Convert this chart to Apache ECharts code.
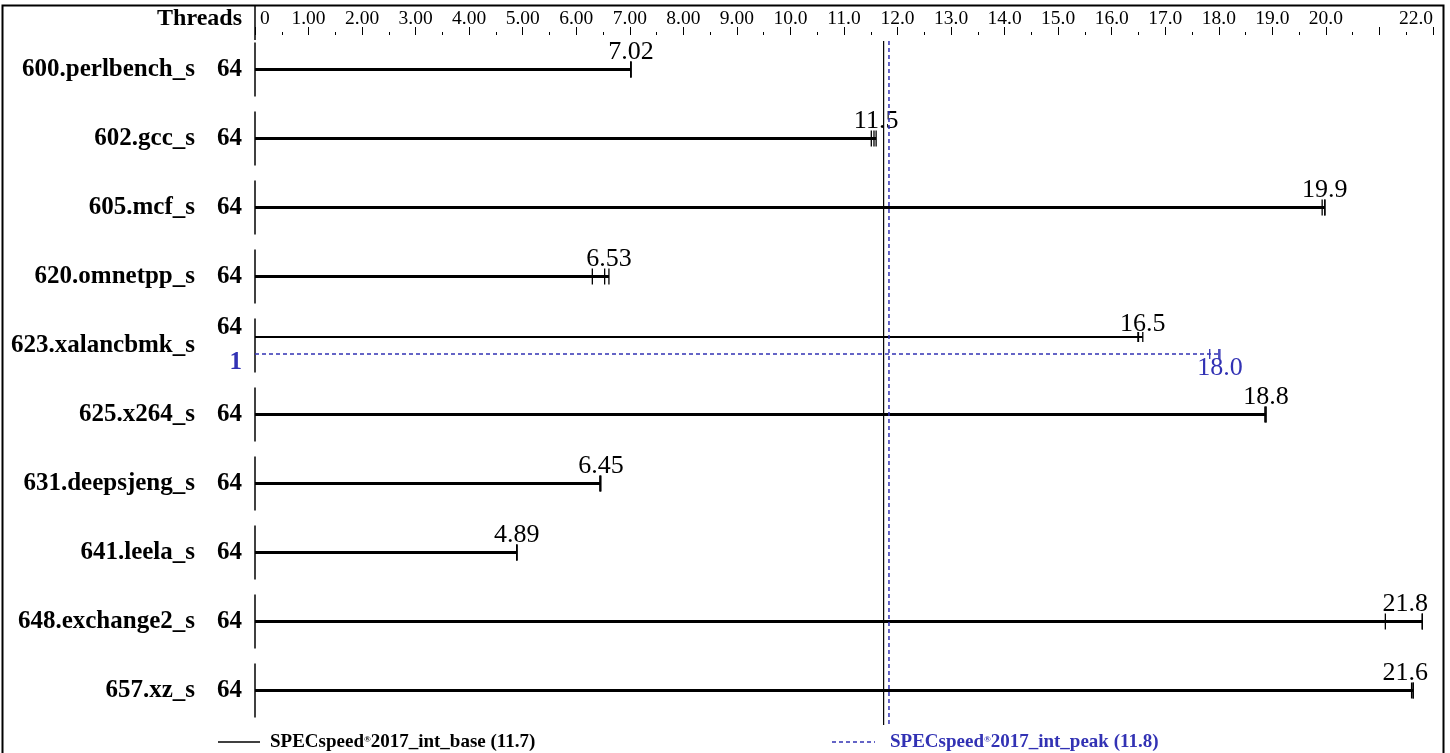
<!DOCTYPE html>
<html>
<head>
<meta charset="utf-8">
<script src="https://cdn.jsdelivr.net/npm/echarts@6/dist/echarts.min.js"></script>
<style>
html,body{margin:0;padding:0;background:#fff;}
#chart{width:1450px;height:753px;}
</style>
</head>
<body>
<div id="chart"></div>
<script>
// ---------- data ----------
const benchmarks = ['600.perlbench_s','602.gcc_s','605.mcf_s','620.omnetpp_s','623.xalancbmk_s','625.x264_s','631.deepsjeng_s','641.leela_s','648.exchange2_s','657.xz_s'];
const baseThreads = [64,64,64,64,64,64,64,64,64,64];
const baseScores = [7.02, 11.5, 19.9, 6.53, 16.5, 18.8, 6.45, 4.89, 21.8, 21.6];
const baseRuns = [
  [7.02, 7.02, 7.02],
  [11.51, 11.56, 11.60],
  [19.93, 19.98, 19.98],
  [6.30, 6.53, 6.61],
  [16.49, 16.50, 16.58],
  [18.86, 18.88, 18.88],
  [6.44, 6.45, 6.46],
  [4.89, 4.89, 4.89],
  [21.11, 21.80, 21.80],
  [21.60, 21.63, 21.63]
];
const peakBenchmarks = ['623.xalancbmk_s'];
const peakThreads = [1];
const peakScores = [18.0];
const peakRuns = [[17.83, 18.00, 18.02]];
const baseMean = 11.74;
const peakMean = 11.84;
const tickLabels = ['0','1.00','2.00','3.00','4.00','5.00','6.00','7.00','8.00','9.00','10.0','11.0','12.0','13.0','14.0','15.0','16.0','17.0','18.0','19.0','20.0','','22.0'];

// ---------- styling ----------
const SERIF = 'Liberation Serif';
const BLUE = '#3232b4';
const NAME_SIZE = 25;
const VALUE_SIZE = 26;

const chart = echarts.init(document.getElementById('chart'));

function hasPeak(i){ return peakBenchmarks.indexOf(benchmarks[i]) >= 0; }

function barRender(runsArr, scoresArr, isPeak){
  return function(params, api){
    const idx = params.dataIndex;
    const cat = api.value(1);
    const cs = params.coordSys;
    const center = api.coord([0, cat]);
    let y = center[1];
    const split = isPeak || hasPeak(cat);
    if (split) y += isPeak ? 8.5 : -8.5;
    const runs = runsArr[idx];
    const endVal = Math.max.apply(null, runs);
    const x0 = center[0];
    const x1 = api.coord([endVal, cat])[0];
    const color = isPeak ? BLUE : '#000';
    const children = [];
    children.push({
      type: 'line',
      shape: {x1: x0, y1: y, x2: x1, y2: y},
      style: {stroke: color, lineWidth: isPeak ? 1.5 : (split ? 2 : 3), lineDash: isPeak ? [4,3] : null}
    });
    const th = split ? 5 : 8;
    runs.forEach(function(r){
      const rx = api.coord([r, cat])[0];
      children.push({
        type: 'line',
        shape: {x1: rx, y1: y - th, x2: rx, y2: y + th},
        style: {stroke: color, lineWidth: 1.3}
      });
    });
    const limit = cs.x + cs.width - 5;
    let align = 'center', tx = x1;
    if (x1 + 23 > limit) { align = 'right'; tx = limit; }
    const ty = isPeak ? y + 14 : (split ? y - 13 : y - 17);
    children.push({
      type: 'text',
      style: {
        x: tx, y: ty, text: String(scoresArr[idx].toFixed(scoresArr[idx] < 10 ? 2 : 1)),
        align: align, verticalAlign: 'middle',
        fontFamily: SERIF, fontSize: VALUE_SIZE, fill: color
      }
    });
    return {type: 'group', children: children};
  };
}

function labelRender(params, api){
  const cat = api.value(1);
  const cs = params.coordSys;
  const p = api.coord([0, cat]);
  const x = cs.x, y = p[1];
  const children = [];
  children.push({
    type: 'line', shape: {x1: x, y1: y - 27, x2: x, y2: y + 27},
    style: {stroke: '#000', lineWidth: 1.5}
  });
  children.push({
    type: 'text',
    style: {x: x - 60, y: y, text: benchmarks[cat], align: 'right', verticalAlign: 'middle',
      fontFamily: SERIF, fontSize: NAME_SIZE, fontWeight: 'bold', fill: '#000'}
  });
  if (hasPeak(cat)) {
    const pi = peakBenchmarks.indexOf(benchmarks[cat]);
    children.push({
      type: 'text',
      style: {x: x - 13, y: y - 18, text: String(baseThreads[cat]), align: 'right', verticalAlign: 'middle',
        fontFamily: SERIF, fontSize: NAME_SIZE, fontWeight: 'bold', fill: '#000'}
    });
    children.push({
      type: 'text',
      style: {x: x - 13, y: y + 17, text: String(peakThreads[pi]), align: 'right', verticalAlign: 'middle',
        fontFamily: SERIF, fontSize: NAME_SIZE, fontWeight: 'bold', fill: BLUE}
    });
  } else {
    children.push({
      type: 'text',
      style: {x: x - 13, y: y, text: String(baseThreads[cat]), align: 'right', verticalAlign: 'middle',
        fontFamily: SERIF, fontSize: NAME_SIZE, fontWeight: 'bold', fill: '#000'}
    });
  }
  if (cat === 0) {
    children.push({
      type: 'line', shape: {x1: x, y1: 5, x2: x, y2: cs.y + 5},
      style: {stroke: '#000', lineWidth: 1.5}
    });
    children.push({
      type: 'text',
      style: {x: x - 13, y: 19, text: 'Threads', align: 'right', verticalAlign: 'middle',
        fontFamily: SERIF, fontSize: 24, fontWeight: 'bold', fill: '#000'}
    });
  }
  return {type: 'group', children: children};
}

function meanRender(color, dashed){
  return function(params, api){
    const cs = params.coordSys;
    const x = api.coord([api.value(0), 0])[0];
    return {
      type: 'line',
      shape: {x1: x, y1: cs.y + 6, x2: x, y2: cs.y + cs.height},
      style: {stroke: color, lineWidth: dashed ? 1.5 : 1.2, lineDash: dashed ? [4,3] : null}
    };
  };
}

const peakIdx = peakBenchmarks.map(function(b){ return benchmarks.indexOf(b); });

const option = {
  animation: false,
  backgroundColor: '#fff',
  grid: {left: 255, right: 17, top: 35, bottom: 28, containLabel: false},
  xAxis: {
    type: 'value', position: 'top', min: 0, max: 22, interval: 1,
    axisLine: {show: false},
    axisTick: {show: true, length: 8, lineStyle: {color: '#000', width: 1}},
    minorTick: {show: true, splitNumber: 2, length: 3, lineStyle: {color: '#000', width: 1}},
    splitLine: {show: false},
    axisLabel: {
      show: true, margin: 6, color: '#000', fontFamily: SERIF, fontSize: 19.5,
      alignMinLabel: 'left', alignMaxLabel: 'right',
      formatter: function(v){
        const t = tickLabels[Math.round(v)] || '';
        return v === 0 ? '{z|' + t + '}' : t;
      },
      rich: {z: {fontFamily: SERIF, fontSize: 19.5, color: '#000', padding: [0,0,0,5]}}
    }
  },
  yAxis: {
    type: 'category', data: benchmarks, inverse: true,
    axisLine: {show: false}, axisTick: {show: false}, axisLabel: {show: false}, splitLine: {show: false}
  },
  series: [
    {type: 'custom', name: 'labels', clip: false, renderItem: labelRender,
      data: benchmarks.map(function(b, i){ return [0, i]; }), encode: {x: 0, y: 1}, silent: true},
    {type: 'custom', name: 'base', clip: false, renderItem: barRender(baseRuns, baseScores, false),
      data: baseScores.map(function(v, i){ return [v, i]; }), encode: {x: 0, y: 1}, silent: true},
    {type: 'custom', name: 'peak', clip: false, renderItem: barRender(peakRuns, peakScores, true),
      data: peakScores.map(function(v, i){ return [v, peakIdx[i]]; }), encode: {x: 0, y: 1}, silent: true},
    {type: 'custom', name: 'baseMean', clip: false, renderItem: meanRender('#000', false),
      data: [[baseMean, 0]], encode: {x: 0, y: 1}, silent: true},
    {type: 'custom', name: 'peakMean', clip: false, renderItem: meanRender(BLUE, true),
      data: [[peakMean, 0]], encode: {x: 0, y: 1}, silent: true}
  ],
  graphic: [
    {type: 'rect', silent: true, shape: {x: 2.5, y: 5.5, width: 1441, height: 800},
      style: {fill: 'none', stroke: '#000', lineWidth: 2}},
    {type: 'line', silent: true, shape: {x1: 218, y1: 742, x2: 260, y2: 742},
      style: {stroke: '#000', lineWidth: 1.5}},
    {type: 'text', silent: true,
      style: {x: 270, y: 742, verticalAlign: 'middle', align: 'left',
        text: '{b|SPECspeed}{r|®}{b|2017_int_base (' + baseMean.toFixed(1) + ')}',
        rich: {
          b: {fontFamily: SERIF, fontSize: 19, fontWeight: 'bold', fill: '#000', color: '#000', lineHeight: 20},
          r: {fontFamily: SERIF, fontSize: 9, fontWeight: 'bold', fill: '#000', color: '#000', lineHeight: 20, verticalAlign: 'top', padding: [3,0,0,0]}
        }}},
    {type: 'line', silent: true, shape: {x1: 832, y1: 742, x2: 875, y2: 742},
      style: {stroke: BLUE, lineWidth: 1.5, lineDash: [4,3]}},
    {type: 'text', silent: true,
      style: {x: 890, y: 742, verticalAlign: 'middle', align: 'left',
        text: '{b|SPECspeed}{r|®}{b|2017_int_peak (' + peakMean.toFixed(1) + ')}',
        rich: {
          b: {fontFamily: SERIF, fontSize: 19, fontWeight: 'bold', fill: BLUE, color: BLUE, lineHeight: 20},
          r: {fontFamily: SERIF, fontSize: 9, fontWeight: 'bold', fill: BLUE, color: BLUE, lineHeight: 20, verticalAlign: 'top', padding: [3,0,0,0]}
        }}}
  ]
};
chart.setOption(option);
</script>
</body>
</html>
